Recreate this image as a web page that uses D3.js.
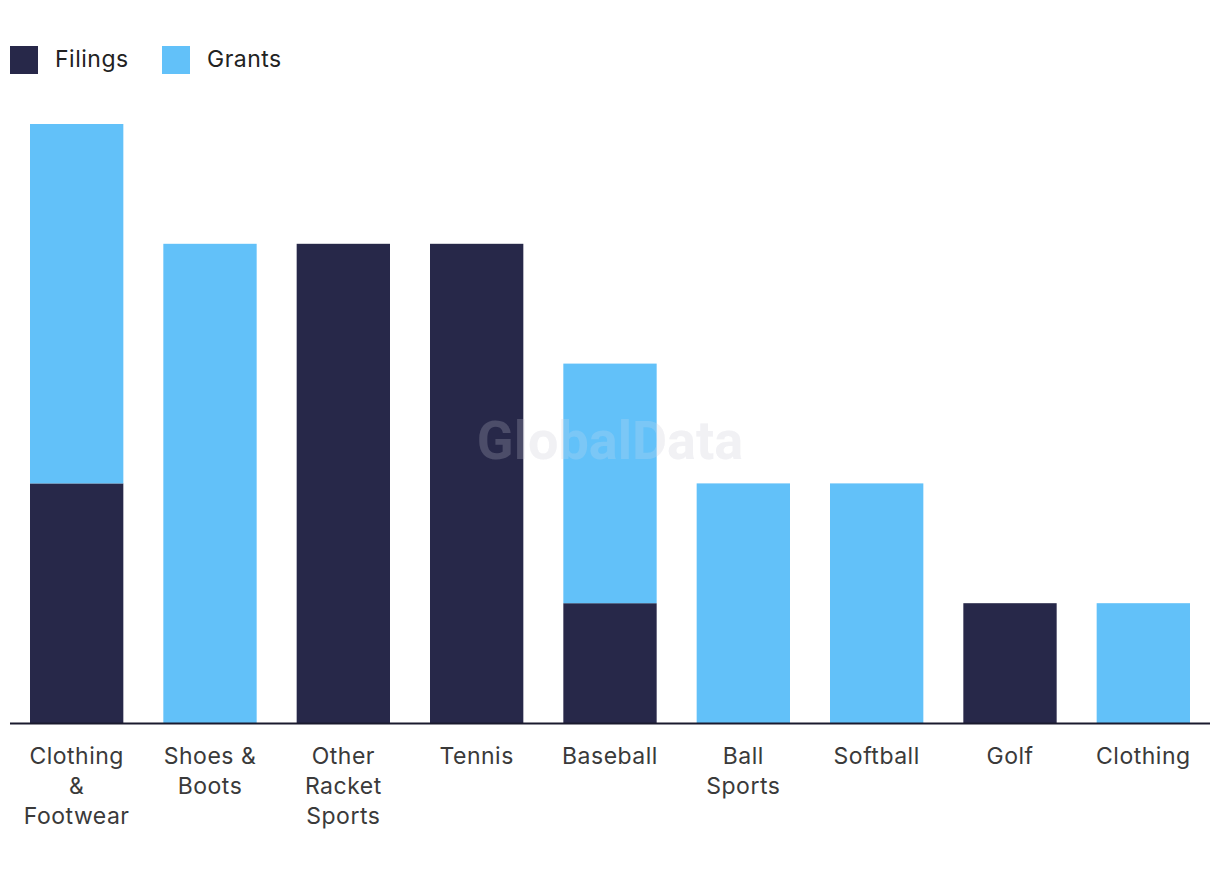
<!DOCTYPE html>
<html><head><meta charset="utf-8">
<script src="https://cdnjs.cloudflare.com/ajax/libs/d3/7.8.5/d3.min.js"></script>
<style>body{margin:0;background:#fff}svg{display:block}</style>
</head><body><svg id="c" width="1220" height="880"></svg>
<script>
const categories = [["Clothing","&","Footwear"],["Shoes &","Boots"],["Other","Racket","Sports"],["Tennis"],["Baseball"],["Ball","Sports"],["Softball"],["Golf"],["Clothing"]];
const filings = [2,0,4,4,1,0,0,1,0];
const grants  = [3,4,0,0,2,2,2,0,1];
const seriesNames = ["Filings","Grants"];
const colors = ["#272849","#62c1f9"];

const svg = d3.select("#c");
const font = "Inter, 'Noto Sans', sans-serif";
const ids = categories.map((c,i)=>i);
const x = d3.scaleBand().domain(ids).range([10,1210]).paddingInner(0.3).paddingOuter(0.15);
const y = d3.scaleLinear().domain([0,5]).range([723,124]);

const data = ids.map(i=>({i, Filings: filings[i], Grants: grants[i]}));
const stack = d3.stack().keys(seriesNames)(data);

svg.append("text").attr("x",610).attr("y",459).attr("text-anchor","middle")
  .attr("font-family","Roboto, Arial, sans-serif").attr("font-weight","bold").attr("font-size",54)
  .attr("fill","#eeeef2").attr("fill-opacity",0.6).text("GlobalData");

svg.append("g").selectAll("g").data(stack).join("g").attr("fill",(d,k)=>colors[k])
  .selectAll("rect").data(d=>d.filter(s=>s[1]>s[0])).join("rect")
  .attr("x",d=>x(d.data.i)).attr("width",x.bandwidth())
  .attr("y",d=>y(d[1])).attr("height",d=>y(d[0])-y(d[1]));

svg.append("text").attr("x",610).attr("y",459).attr("text-anchor","middle")
  .attr("font-family","Roboto, Arial, sans-serif").attr("font-weight","bold").attr("font-size",54)
  .attr("fill","#e0e0ea").attr("fill-opacity",0.2).text("GlobalData");

const ax = svg.append("g").attr("transform","translate(0,723)").call(d3.axisBottom(x).tickSize(0).tickFormat(""));
ax.select(".domain").attr("stroke","#1a1a2e").attr("stroke-width",2).attr("d","M10,0.5H1210");

const lab = svg.append("g");
ids.forEach(i=>{
  const cx = x(i)+x.bandwidth()/2;
  const t = lab.append("text").attr("x",cx).attr("y",764)
    .attr("text-anchor","middle").attr("font-family",font).attr("font-size",23).attr("letter-spacing","0.5px").attr("fill","#3a3a3a");
  categories[i].forEach((l,j)=>t.append("tspan").attr("x",cx).attr("dy",j?30:0).text(l));
});

const lg = svg.append("g");
const legX = [10,162];
seriesNames.forEach((s,k)=>{
  lg.append("rect").attr("x",legX[k]).attr("y",46).attr("width",28).attr("height",28).attr("fill",colors[k]);
  lg.append("text").attr("x",legX[k]+45).attr("y",67).attr("font-family",font).attr("font-size",23).attr("letter-spacing","0.5px").attr("fill","#222").text(s);
});
</script></body></html>
